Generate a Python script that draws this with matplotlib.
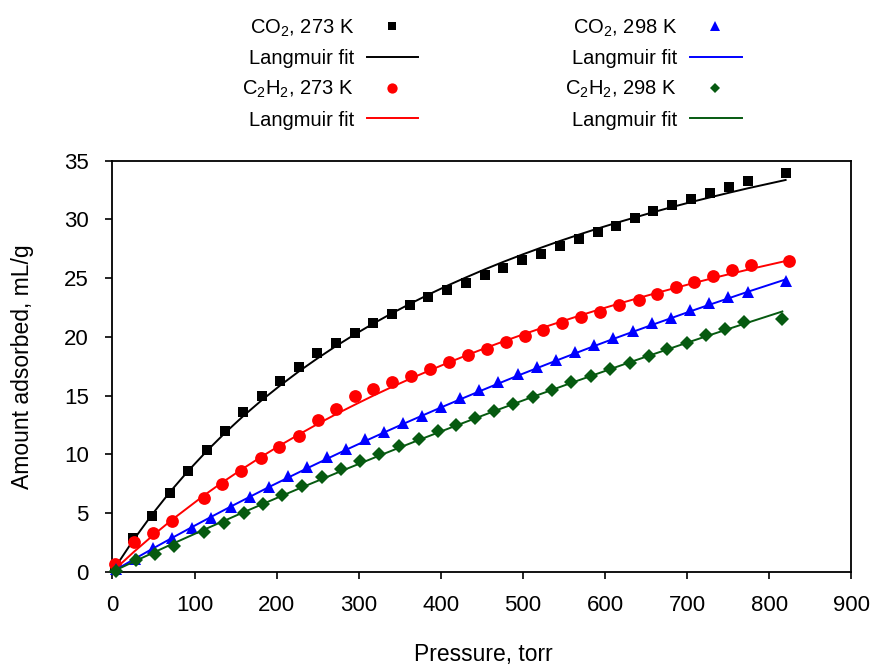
import matplotlib
matplotlib.use("Agg")
import matplotlib.pyplot as plt
from matplotlib.lines import Line2D

plt.rcParams['font.family'] = ['Liberation Sans', 'DejaVu Sans']
plt.rcParams['mathtext.fontset'] = 'custom'
plt.rcParams['mathtext.rm'] = 'Liberation Sans'

# ---------------- data ----------------
co2_273_p = [3, 25, 48, 70, 92, 115, 137, 159, 182, 204, 227, 249, 272, 295, 317, 340, 363, 385,
             408, 431, 454, 476, 499, 522, 545, 568, 591, 613, 636, 659, 682, 705, 728, 751, 774, 820]
co2_273_q = [0.3, 2.90, 4.74, 6.67, 8.60, 10.37, 12.01, 13.57, 14.96, 16.24, 17.44, 18.60, 19.51,
             20.36, 21.16, 21.95, 22.72, 23.37, 24.00, 24.56, 25.27, 25.89, 26.52, 27.09, 27.72,
             28.31, 28.96, 29.42, 30.10, 30.70, 31.23, 31.72, 32.23, 32.80, 33.31, 33.93]
co2_273_fit = [0.33, 2.64, 4.84, 6.78, 8.56, 10.28, 11.81, 13.23, 14.61, 15.84, 17.05, 18.13, 19.20,
               20.20, 21.10, 21.99, 22.83, 23.60, 24.36, 25.07, 25.76, 26.38, 27.00, 27.59, 28.16,
               28.70, 29.22, 29.69, 30.16, 30.62, 31.06, 31.48, 31.88, 32.27, 32.65, 33.36]

c2h2_273_p = [3, 26, 49, 72, 112, 134, 157, 181, 203, 227, 250, 272, 295, 318, 341, 364, 387, 410,
              433, 456, 479, 502, 525, 548, 571, 594, 617, 641, 663, 687, 709, 732, 755, 778, 824]
c2h2_273_q = [0.63, 2.50, 3.27, 4.34, 6.30, 7.47, 8.60, 9.66, 10.65, 11.56, 12.92, 13.88, 14.97,
              15.54, 16.13, 16.70, 17.29, 17.84, 18.46, 18.94, 19.54, 20.10, 20.59, 21.16, 21.67,
              22.15, 22.72, 23.14, 23.65, 24.23, 24.65, 25.19, 25.70, 26.12, 26.49]
c2h2_273_fit = [0.20, 1.68, 3.07, 4.39, 6.52, 7.61, 8.69, 9.77, 10.71, 11.68, 12.58, 13.40, 14.21,
                15.00, 15.75, 16.47, 17.16, 17.83, 18.47, 19.09, 19.68, 20.25, 20.80, 21.33, 21.85,
                22.35, 22.83, 23.31, 23.74, 24.19, 24.60, 25.01, 25.40, 25.79, 26.52]

co2_298_p = [4, 27, 50, 73, 97, 120, 144, 168, 191, 214, 237, 261, 284, 308, 331, 354, 377, 400,
             423, 446, 470, 494, 517, 540, 563, 587, 610, 634, 657, 680, 703, 727, 750, 774, 821]
co2_298_q = [0.2, 1.05, 2.05, 2.90, 3.75, 4.60, 5.54, 6.39, 7.24, 8.15, 8.94, 9.80, 10.43, 11.28,
             11.93, 12.64, 13.29, 14.05, 14.77, 15.45, 16.13, 16.84, 17.41, 18.03, 18.74, 19.31,
             19.93, 20.53, 21.16, 21.64, 22.29, 22.86, 23.42, 23.85, 24.76]
co2_298_fit = [0.16, 1.09, 2.00, 2.89, 3.80, 4.66, 5.54, 6.40, 7.22, 8.01, 8.80, 9.60, 10.36, 11.13,
               11.86, 12.58, 13.28, 13.98, 14.66, 15.33, 16.02, 16.70, 17.33, 17.96, 18.58, 19.22,
               19.82, 20.43, 21.01, 21.58, 22.15, 22.73, 23.27, 23.84, 24.91]

c2h2_298_p = [4, 29, 52, 75, 112, 136, 160, 184, 207, 231, 255, 278, 302, 325, 349, 373, 396, 419,
              442, 465, 488, 512, 535, 559, 583, 606, 630, 653, 676, 700, 723, 746, 769, 816]
c2h2_298_q = [0.09, 1.00, 1.51, 2.22, 3.41, 4.17, 4.97, 5.77, 6.53, 7.30, 8.09, 8.75, 9.46, 10.03,
              10.71, 11.28, 11.98, 12.50, 13.07, 13.69, 14.28, 14.91, 15.48, 16.13, 16.67, 17.27,
              17.80, 18.37, 18.94, 19.51, 20.16, 20.65, 21.24, 21.53]
c2h2_298_fit = [0.13, 0.95, 1.69, 2.43, 3.59, 4.33, 5.07, 5.79, 6.48, 7.19, 7.88, 8.55, 9.23, 9.88,
                10.55, 11.21, 11.83, 12.45, 13.06, 13.67, 14.27, 14.89, 15.47, 16.08, 16.67, 17.24,
                17.83, 18.38, 18.93, 19.50, 20.04, 20.57, 21.10, 22.16]

series_labels = [r'CO$\mathregular{_2}$, 273 K', r'C$\mathregular{_2}$H$\mathregular{_2}$, 273 K',
                 r'CO$\mathregular{_2}$, 298 K', r'C$\mathregular{_2}$H$\mathregular{_2}$, 298 K']
fit_label = 'Langmuir fit'
x_ticks = [0, 100, 200, 300, 400, 500, 600, 700, 800, 900]
y_ticks = [0, 5, 10, 15, 20, 25, 30, 35]
x_label = 'Pressure, torr'
y_label = 'Amount adsorbed, mL/g'

# ---------------- styles ----------------
colors = ['black', '#FF0000', '#0000FF', '#065A10']
markers = ['s', 'o', '^', 'D']
msizes = [7.8, 9.2, 8.8, 7.4]
leg_msizes = [5.4, 7.4, 6.8, 5.0]

W, H = 877, 666
fig = plt.figure(figsize=(W / 100, H / 100), dpi=100)
ax = fig.add_axes([112.4 / W, 1 - 571.7 / H, (851.3 - 112.4) / W, (571.7 - 160.7) / H])

data = [(co2_273_p, co2_273_q, co2_273_fit),
        (c2h2_273_p, c2h2_273_q, c2h2_273_fit),
        (co2_298_p, co2_298_q, co2_298_fit),
        (c2h2_298_p, c2h2_298_q, c2h2_298_fit)]

z = 3
for (p, q, f), c, m, ms in zip(data, colors, markers, msizes):
    ax.plot(p, q, linestyle='none', marker=m, markersize=ms, color=c,
            markeredgewidth=0, zorder=z, clip_on=False)
    ax.plot(p, f, '-', color=c, linewidth=1.4, zorder=z + 0.5, clip_on=False)
    z += 1

ax.set_xlim(0, 900)
ax.set_ylim(0, 35)
ax.set_xticks(x_ticks)
ax.set_yticks(y_ticks)
ax.tick_params(axis='both', direction='out', length=5, width=1.2, labelsize=16, pad=12,
               colors='black')
ax.tick_params(top=False, right=False)
for s in ax.spines.values():
    s.set_linewidth(1.3)
    s.set_color('black')

ax.set_xlabel(x_label, fontsize=16.5, va='center')
ax.xaxis.set_label_coords(0.502, (571.7 - 654) / (571.7 - 160.7))
ax.set_ylabel(y_label, fontsize=16.5, va='center')
ax.yaxis.set_label_coords((22 - 112.4) / (851.3 - 112.4), 0.5)

# ---------------- legend (two columns, text right-aligned, key on right) ----------------
row_y = [26, 56.7, 87.7, 118.3]
col_text_right = [354, 677]
col_marker_x = [391.7, 715]
col_line = [(366.7, 418.3), (690, 741.6)]
leg_fs = 14.5
for i in range(4):
    col = i // 2
    row0 = (i % 2) * 2
    # marker entry
    yc = row_y[row0]
    fig.text(col_text_right[col] / W, 1 - (yc + 7.2) / H, series_labels[i], ha='right',
             va='baseline', fontsize=leg_fs)
    fig.add_artist(Line2D([col_marker_x[col] / W], [1 - yc / H], transform=fig.transFigure,
                          marker=markers[i], markersize=leg_msizes[i], color=colors[i],
                          markeredgewidth=0, linestyle='none'))
    # fit entry
    yc = row_y[row0 + 1]
    fig.text(col_text_right[col] / W, 1 - (yc + 7.2) / H, fit_label, ha='right',
             va='baseline', fontsize=leg_fs)
    x0, x1 = col_line[col]
    fig.add_artist(Line2D([x0 / W, x1 / W], [1 - yc / H, 1 - yc / H], transform=fig.transFigure,
                          color=colors[i], linewidth=1.4))

fig.savefig('out.png', dpi=100)
